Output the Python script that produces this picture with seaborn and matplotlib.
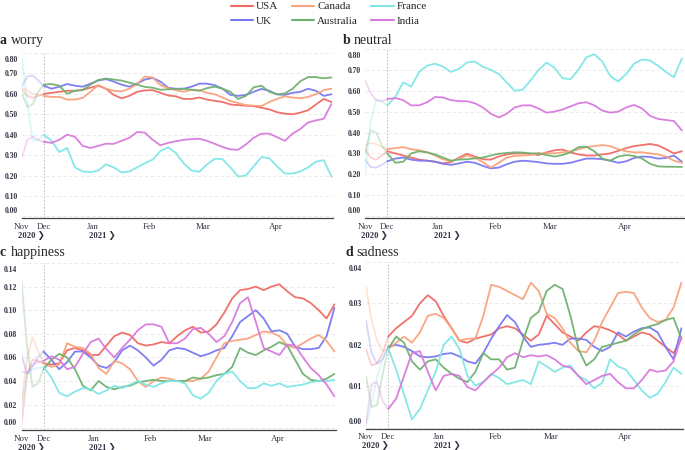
import numpy as np
import pandas as pd
import matplotlib
matplotlib.use('Agg')
import matplotlib.pyplot as plt
import matplotlib.transforms as mtransforms
from matplotlib.lines import Line2D
import seaborn as sns

sns.set_style('white')
plt.rcParams['font.family'] = ['Liberation Serif', 'DejaVu Sans']

countries = ['USA', 'UK', 'Canada', 'Australia', 'France', 'India']
colors = ['#f06a64', '#7878f2', '#f9a27c', '#6fb16f', '#7fe6e6', '#d879dc']

# position along the time axis (0 = first day shown, 100 = last day)
t = np.r_[0, 1.75, 3.5, 5.25, np.arange(7, 100, 2.5)]
dec_start = 7
month_pos = [0, 7, 22.8, 40.9, 58.3, 81.5]
month_labels = ['Nov', 'Dec', 'Jan', 'Feb', 'Mar', 'Apr']
year_pos = [0, 22.8]
year_labels = ['2020 \u276f', '2021 \u276f']

# a worry
worry_usa = [0.62, 0.59, 0.58, 0.59, 0.60, 0.605, 0.61, 0.615, 0.615, 0.62, 0.63, 0.64, 0.625, 0.595,
             0.578, 0.59, 0.61, 0.617, 0.618, 0.605, 0.592, 0.588, 0.575, 0.575, 0.582, 0.572, 0.566, 0.56,
             0.548, 0.545, 0.542, 0.54, 0.532, 0.524, 0.51, 0.503, 0.50, 0.508, 0.52, 0.548, 0.575, 0.56]
worry_uk = [0.64, 0.685, 0.69, 0.665, 0.64, 0.625, 0.635, 0.648, 0.64, 0.635, 0.65, 0.665, 0.672, 0.66,
            0.645, 0.635, 0.65, 0.67, 0.678, 0.66, 0.63, 0.625, 0.625, 0.635, 0.65, 0.65, 0.642, 0.625,
            0.595, 0.59, 0.595, 0.61, 0.624, 0.615, 0.597, 0.595, 0.605, 0.61, 0.625, 0.615, 0.59, 0.598]
worry_canada = [0.63, 0.615, 0.60, 0.595, 0.59, 0.585, 0.585, 0.572, 0.572, 0.58, 0.61, 0.643, 0.625, 0.615,
                0.612, 0.625, 0.648, 0.685, 0.68, 0.643, 0.628, 0.618, 0.61, 0.62, 0.618, 0.605, 0.598, 0.582,
                0.565, 0.555, 0.545, 0.542, 0.54, 0.56, 0.575, 0.588, 0.582, 0.578, 0.585, 0.598, 0.618, 0.625]
worry_australia = [0.60, 0.535, 0.55, 0.61, 0.645, 0.648, 0.64, 0.60, 0.615, 0.618, 0.645, 0.668, 0.675, 0.67,
                   0.665, 0.655, 0.645, 0.634, 0.63, 0.62, 0.622, 0.624, 0.625, 0.62, 0.615, 0.628, 0.635, 0.625,
                   0.61, 0.575, 0.59, 0.632, 0.64, 0.61, 0.598, 0.602, 0.625, 0.662, 0.682, 0.682, 0.676, 0.68]
worry_france = [0.77, 0.55, 0.37, 0.375, 0.40, 0.37, 0.315, 0.335, 0.24, 0.22, 0.216, 0.224, 0.255, 0.24,
                0.215, 0.22, 0.24, 0.26, 0.278, 0.32, 0.338, 0.31, 0.26, 0.225, 0.218, 0.255, 0.282, 0.28,
                0.24, 0.195, 0.20, 0.245, 0.29, 0.285, 0.245, 0.21, 0.21, 0.22, 0.24, 0.268, 0.275, 0.195]
worry_india = [0.29, 0.375, 0.39, 0.375, 0.365, 0.36, 0.375, 0.40, 0.39, 0.345, 0.335, 0.345, 0.356, 0.355,
               0.37, 0.385, 0.413, 0.41, 0.375, 0.348, 0.36, 0.368, 0.375, 0.378, 0.38, 0.37, 0.355, 0.34,
               0.328, 0.326, 0.352, 0.385, 0.405, 0.405, 0.388, 0.37, 0.405, 0.428, 0.46, 0.47, 0.478, 0.55]

# b neutral
neutral_usa = [0.32, 0.28, 0.27, 0.29, 0.31, 0.30, 0.29, 0.28, 0.27, 0.265, 0.26, 0.252, 0.258, 0.28,
               0.298, 0.285, 0.272, 0.27, 0.285, 0.295, 0.30, 0.30, 0.298, 0.292, 0.305, 0.315, 0.318, 0.305,
               0.295, 0.29, 0.29, 0.295, 0.30, 0.312, 0.325, 0.335, 0.34, 0.345, 0.338, 0.32, 0.30, 0.31]
neutral_uk = [0.27, 0.235, 0.232, 0.245, 0.262, 0.275, 0.28, 0.27, 0.265, 0.265, 0.26, 0.25, 0.245, 0.252,
              0.26, 0.255, 0.24, 0.228, 0.232, 0.248, 0.26, 0.265, 0.262, 0.258, 0.252, 0.25, 0.25, 0.255,
              0.265, 0.275, 0.275, 0.272, 0.265, 0.255, 0.262, 0.278, 0.285, 0.283, 0.275, 0.278, 0.29, 0.26]
neutral_canada = [0.34, 0.35, 0.345, 0.33, 0.32, 0.325, 0.33, 0.32, 0.315, 0.305, 0.29, 0.272, 0.262, 0.275,
                  0.29, 0.28, 0.258, 0.232, 0.255, 0.28, 0.288, 0.29, 0.292, 0.30, 0.30, 0.30, 0.305, 0.31,
                  0.32, 0.33, 0.335, 0.34, 0.335, 0.32, 0.31, 0.305, 0.305, 0.30, 0.295, 0.285, 0.265, 0.255]
neutral_australia = [0.30, 0.41, 0.40, 0.34, 0.30, 0.255, 0.26, 0.30, 0.31, 0.305, 0.295, 0.28, 0.265, 0.27,
                     0.272, 0.276, 0.28, 0.29, 0.298, 0.302, 0.305, 0.304, 0.30, 0.30, 0.292, 0.285, 0.292, 0.305,
                     0.33, 0.332, 0.31, 0.275, 0.265, 0.285, 0.292, 0.288, 0.275, 0.25, 0.238, 0.236, 0.236, 0.235]
neutral_france = [0.20, 0.45, 0.56, 0.55, 0.53, 0.57, 0.64, 0.62, 0.69, 0.72, 0.73, 0.715, 0.69, 0.705,
                  0.735, 0.74, 0.715, 0.70, 0.68, 0.64, 0.60, 0.605, 0.65, 0.70, 0.735, 0.71, 0.66, 0.655,
                  0.70, 0.76, 0.775, 0.74, 0.67, 0.645, 0.68, 0.73, 0.75, 0.745, 0.72, 0.69, 0.665, 0.755]
neutral_india = [0.65, 0.59, 0.555, 0.55, 0.56, 0.565, 0.555, 0.53, 0.53, 0.545, 0.57, 0.568, 0.555, 0.55,
                 0.55, 0.54, 0.52, 0.49, 0.472, 0.49, 0.52, 0.53, 0.53, 0.515, 0.495, 0.50, 0.51, 0.525,
                 0.54, 0.545, 0.53, 0.505, 0.495, 0.50, 0.52, 0.532, 0.515, 0.48, 0.465, 0.46, 0.455, 0.41]

# c happiness
happiness_usa = [0.003, 0.045, 0.058, 0.057, 0.055, 0.054, 0.055, 0.066, 0.068, 0.066, 0.062, 0.062, 0.07, 0.078,
                 0.081, 0.079, 0.072, 0.07, 0.071, 0.073, 0.072, 0.078, 0.083, 0.086, 0.081, 0.082, 0.088, 0.098,
                 0.11, 0.117, 0.118, 0.12, 0.117, 0.12, 0.122, 0.116, 0.111, 0.11, 0.106, 0.10, 0.093, 0.105]
happiness_uk = [0.062, 0.046, 0.052, 0.06, 0.065, 0.058, 0.05, 0.056, 0.065, 0.065, 0.06, 0.053, 0.051, 0.056,
                0.066, 0.07, 0.066, 0.06, 0.053, 0.058, 0.066, 0.068, 0.067, 0.064, 0.061, 0.063, 0.066, 0.068,
                0.078, 0.09, 0.095, 0.10, 0.093, 0.082, 0.083, 0.08, 0.069, 0.067, 0.067, 0.068, 0.078, 0.102]
happiness_canada = [0.02, 0.06, 0.077, 0.065, 0.055, 0.052, 0.054, 0.072, 0.069, 0.068, 0.063, 0.051, 0.046, 0.057,
                    0.055, 0.05, 0.04, 0.035, 0.04, 0.043, 0.042, 0.04, 0.04, 0.04, 0.042, 0.048, 0.06, 0.072,
                    0.074, 0.075, 0.076, 0.079, 0.082, 0.081, 0.078, 0.07, 0.068, 0.072, 0.076, 0.079, 0.074, 0.065]
happiness_australia = [0.125, 0.07, 0.035, 0.038, 0.05, 0.058, 0.063, 0.06, 0.05, 0.036, 0.032, 0.04, 0.035, 0.033,
                       0.035, 0.036, 0.039, 0.04, 0.041, 0.04, 0.04, 0.04, 0.04, 0.043, 0.042, 0.043, 0.045, 0.046,
                       0.052, 0.068, 0.064, 0.062, 0.066, 0.069, 0.073, 0.07, 0.058, 0.046, 0.041, 0.04, 0.042, 0.046]
happiness_france = [0.02, 0.045, 0.05, 0.051, 0.052, 0.043, 0.03, 0.027, 0.031, 0.034, 0.033, 0.029, 0.032, 0.036,
                    0.034, 0.037, 0.04, 0.037, 0.035, 0.038, 0.04, 0.04, 0.038, 0.028, 0.025, 0.03, 0.04, 0.046,
                    0.048, 0.04, 0.034, 0.034, 0.038, 0.036, 0.038, 0.035, 0.036, 0.037, 0.039, 0.04, 0.04, 0.041]
happiness_india = [0.048, 0.047, 0.054, 0.056, 0.057, 0.061, 0.058, 0.05, 0.052, 0.063, 0.073, 0.076, 0.067, 0.06,
                   0.068, 0.075, 0.083, 0.088, 0.088, 0.086, 0.072, 0.072, 0.076, 0.084, 0.085, 0.08, 0.073, 0.078,
                   0.09, 0.106, 0.111, 0.09, 0.068, 0.065, 0.062, 0.071, 0.07, 0.06, 0.051, 0.045, 0.037, 0.027]

# d sadness
sadness_usa = [0.019, 0.015, 0.0155, 0.018, 0.022, 0.024, 0.0255, 0.027, 0.03, 0.032, 0.0305, 0.027, 0.024, 0.021,
               0.0205, 0.0215, 0.022, 0.0225, 0.024, 0.0245, 0.024, 0.0225, 0.021, 0.0225, 0.027, 0.025, 0.023, 0.022,
               0.021, 0.023, 0.0245, 0.0242, 0.0235, 0.0225, 0.021, 0.022, 0.023, 0.0225, 0.021, 0.0195, 0.018, 0.0215]
sadness_uk = [0.026, 0.018, 0.0155, 0.0165, 0.0195, 0.02, 0.0195, 0.0185, 0.0172, 0.017, 0.0172, 0.0178, 0.018, 0.0172,
              0.016, 0.0155, 0.018, 0.0215, 0.0245, 0.0272, 0.0255, 0.022, 0.0195, 0.02, 0.0202, 0.0205, 0.02, 0.0215,
              0.0215, 0.0212, 0.0195, 0.0185, 0.0195, 0.023, 0.022, 0.0232, 0.024, 0.0242, 0.023, 0.0195, 0.0165, 0.024]
sadness_canada = [0.034, 0.026, 0.021, 0.0185, 0.019, 0.0205, 0.022, 0.0205, 0.023, 0.027, 0.0275, 0.0265, 0.024, 0.021,
                  0.0215, 0.0215, 0.027, 0.0345, 0.034, 0.033, 0.032, 0.031, 0.035, 0.033, 0.0275, 0.0265, 0.024, 0.0205,
                  0.0185, 0.0182, 0.021, 0.0255, 0.029, 0.0325, 0.0328, 0.0325, 0.029, 0.0265, 0.0255, 0.026, 0.029, 0.035]
sadness_australia = [0.0125, 0.005, 0.0055, 0.013, 0.019, 0.022, 0.0205, 0.016, 0.014, 0.016, 0.0165, 0.0145, 0.013, 0.0118,
                     0.011, 0.0135, 0.018, 0.0165, 0.0165, 0.014, 0.0145, 0.021, 0.0265, 0.028, 0.033, 0.0345, 0.0335, 0.027,
                     0.019, 0.015, 0.0165, 0.0195, 0.02, 0.0205, 0.021, 0.0225, 0.0238, 0.0245, 0.025, 0.026, 0.0265, 0.0215]
sadness_france = [0.0005, 0.006, 0.012, 0.017, 0.0192, 0.014, 0.008, 0.002, 0.0045, 0.009, 0.0135, 0.02, 0.022, 0.019,
                  0.0125, 0.0102, 0.011, 0.013, 0.012, 0.0105, 0.011, 0.0115, 0.0105, 0.016, 0.0148, 0.0135, 0.0145, 0.015,
                  0.0125, 0.0115, 0.0095, 0.0108, 0.0165, 0.0148, 0.014, 0.0115, 0.009, 0.0072, 0.0082, 0.011, 0.0145, 0.013]
sadness_india = [0.001, 0.0105, 0.011, 0.0065, 0.0045, 0.007, 0.0125, 0.018, 0.0185, 0.0135, 0.009, 0.0125, 0.013, 0.0125,
                 0.0098, 0.009, 0.011, 0.0128, 0.0145, 0.017, 0.018, 0.017, 0.0175, 0.0172, 0.0175, 0.0165, 0.015, 0.0145,
                 0.0125, 0.0105, 0.0115, 0.0125, 0.013, 0.011, 0.0095, 0.0095, 0.0115, 0.014, 0.0135, 0.0138, 0.016, 0.022]

panels = [
    ('a', 'worry', [worry_usa, worry_uk, worry_canada, worry_australia, worry_france, worry_india],
     np.arange(0, 0.81, 0.1), (-0.008, 0.8), [22 / 685, 1 - 218 / 450, 311 / 685, 165 / 450], (0, 44)),
    ('b', 'neutral', [neutral_usa, neutral_uk, neutral_canada, neutral_australia, neutral_france, neutral_india],
     np.arange(0, 0.81, 0.1), (-0.011, 0.8), [365 / 685, 1 - 218.3 / 450, 318.5 / 685, 169.3 / 450], (343, 43.5)),
    ('c', 'happiness', [happiness_usa, happiness_uk, happiness_canada, happiness_australia, happiness_france, happiness_india],
     np.arange(0, 0.141, 0.02), (-0.0015, 0.14), [21.5 / 685, 1 - 430 / 450, 314.5 / 685, 167 / 450], (0, 256)),
    ('d', 'sadness', [sadness_usa, sadness_uk, sadness_canada, sadness_australia, sadness_france, sadness_india],
     np.arange(0, 0.041, 0.01), (-0.0002, 0.04), [366 / 685, 1 - 428.5 / 450, 317 / 685, 166.5 / 450], (346, 256)),
]

palette = dict(zip(countries, colors))
tick_color = '#333344'

fig = plt.figure(figsize=(6.85, 4.5), dpi=100)

for letter, word, series, yticks, ylim, rect, title_xy in panels:
    ax = fig.add_axes(rect)
    df = pd.DataFrame({
        't': np.tile(t, len(countries)),
        'value': np.concatenate(series),
        'country': np.repeat(countries, len(t)),
    })

    # faded lead-in before December, full colour after
    sns.lineplot(data=df[df['t'] <= dec_start], x='t', y='value', hue='country', hue_order=countries,
                 palette=palette, estimator=None, sort=False, lw=1.3, alpha=0.3, legend=False, ax=ax)
    sns.lineplot(data=df[df['t'] >= dec_start], x='t', y='value', hue='country', hue_order=countries,
                 palette=palette, estimator=None, sort=False, lw=1.3, alpha=0.95, legend=False, ax=ax)

    ax.axvline(dec_start, color='#c4c4c4', ls=(0, (1.5, 1.5)), lw=0.8, zorder=0)
    ax.set_xlim(0, 100)
    ax.set_ylim(*ylim)
    ax.set_xlabel('')
    ax.set_ylabel('')

    ax.set_yticks(yticks)
    ax.set_yticklabels([f'{v:.2f}' for v in yticks], fontsize=5.5, fontweight='bold', color=tick_color)
    ax.tick_params(axis='y', length=0, pad=3)
    ax.grid(axis='y', color='#e6e6e6', ls=(0, (4, 3)), lw=0.6)
    ax.grid(axis='x', visible=False)

    ax.set_xticks(month_pos)
    ax.set_xticklabels(month_labels, fontsize=6.4, color=tick_color)
    ax.tick_params(axis='x', length=2.5, width=0.8, pad=0.8, color='#444444')
    for pos, lab in zip(year_pos, year_labels):
        ax.annotate(lab, xy=(pos, 0), xycoords=('data', 'axes fraction'), xytext=(-4, -17),
                    textcoords='offset pixels', ha='left', va='center', fontsize=6.2,
                    fontweight='bold', color=tick_color)

    sns.despine(ax=ax, left=True)
    ax.spines['bottom'].set_color('#444444')
    ax.spines['bottom'].set_linewidth(0.9)

    # end labels sit a little inside the axis range
    ylabs = ax.get_yticklabels()
    shift = 4.5 / 72
    ylabs[0].set_transform(ylabs[0].get_transform()
                           + mtransforms.ScaledTranslation(0, shift, fig.dpi_scale_trans))
    ylabs[-1].set_transform(ylabs[-1].get_transform()
                            + mtransforms.ScaledTranslation(0, -shift, fig.dpi_scale_trans))

    tx, ty = title_xy
    fig.text(tx / 685, 1 - ty / 450, letter, fontsize=10, fontweight='bold', va='baseline')
    fig.text((tx + 10.5) / 685, 1 - ty / 450, word, fontsize=10, va='baseline')

handles = [Line2D([], [], color=c, lw=1.5) for c in colors]
fig.legend(handles, countries, loc='upper center', bbox_to_anchor=(0.48, 1.0), ncol=3, frameon=False,
           fontsize=8, handlelength=2.0, handletextpad=0.3, columnspacing=1.2, labelspacing=0.45,
           borderaxespad=0.05, borderpad=0.1)

fig.savefig('out.png', dpi=100)
